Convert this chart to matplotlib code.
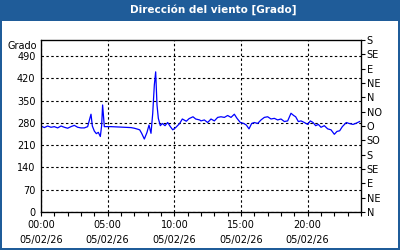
import matplotlib
matplotlib.use("Agg")
import matplotlib.pyplot as plt
from matplotlib.patches import Rectangle

TITLE = "Dirección del viento [Grado]"
UNIT = "Grado"

# hours since 05/02/26 00:00
hours = [0.00, 0.25, 0.50, 0.75, 1.00, 1.25, 1.50, 1.75, 2.00, 2.25, 2.50, 2.75,
         3.00, 3.25, 3.50, 3.60, 3.75, 3.85, 4.00, 4.15, 4.30, 4.45, 4.55, 4.62,
         4.75, 5.25, 5.75, 6.25, 6.75, 7.00, 7.25, 7.40, 7.55, 7.75, 7.95, 8.10,
         8.25, 8.38, 8.50, 8.60, 8.70, 8.80, 8.95, 9.10, 9.30, 9.50, 9.70, 9.88,
         10.10, 10.40, 10.60, 10.90, 11.10, 11.40, 11.60, 11.90, 12.00, 12.25,
         12.50, 12.75, 13.00, 13.25, 13.50, 13.75, 14.00, 14.25, 14.50, 14.70,
         14.95, 15.20, 15.40, 15.60, 15.80, 16.00, 16.25, 16.50, 16.75, 17.00,
         17.25, 17.50, 17.75, 18.00, 18.25, 18.50, 18.75, 18.95, 19.10, 19.30,
         19.50, 19.75, 20.00, 20.20, 20.40, 20.60, 20.80, 21.00, 21.25, 21.50,
         21.75, 22.00, 22.20, 22.40, 22.60, 22.90, 23.10, 23.40, 23.60, 23.90]
direction = [270, 265, 270, 266, 268, 264, 270, 266, 263, 268, 272, 266,
             264, 264, 268, 284, 307, 270, 254, 246, 250, 237, 272, 336,
             268, 268, 267, 266, 265, 263, 260, 258, 247, 229, 250, 273,
             247, 310, 399, 440, 336, 294, 271, 278, 271, 281, 268, 258,
             265, 278, 292, 285, 293, 299, 292, 289, 286, 289,
             281, 292, 286, 297, 299, 297, 303, 297, 307, 294,
             281, 278, 273, 261, 278, 281, 278, 289, 297, 299,
             292, 294, 289, 292, 284, 286, 310, 303, 299, 284,
             286, 281, 275, 286, 281, 271, 275, 266, 271, 261,
             258, 244, 253, 255, 268, 281, 278, 275, 278, 284]

left_ticks = [0, 70, 140, 210, 280, 350, 420, 490]
compass_ticks = [0, 45, 90, 135, 180, 225, 270, 315, 360, 405, 450, 495, 540]
compass_labels = ["N", "NE", "E", "SE", "S", "SO", "O", "NO", "N", "NE", "E", "SE", "S"]
x_ticks = [0, 5, 10, 15, 20]
x_labels = ["00:00\n05/02/26", "05:00\n05/02/26", "10:00\n05/02/26",
            "15:00\n05/02/26", "20:00\n05/02/26"]

BLUE = "#1f5c99"

fig = plt.figure(figsize=(4, 2.5), dpi=100)
fig.patch.set_facecolor(BLUE)
fig.patches.append(Rectangle((2 / 400, 2 / 250), 396 / 400, 227 / 250,
                             transform=fig.transFigure, facecolor="white",
                             edgecolor="none", zorder=-10))
fig.text(213 / 400, 240 / 250, TITLE, color="white", fontsize=7.5,
         fontweight="bold", ha="center", va="center")

ax = fig.add_axes([41 / 400, 38 / 250, 320 / 400, 172 / 250])
ax.set_zorder(1)
ax.plot(hours, direction, color="#0000ff", lw=0.9)
ax.set_xlim(0, 24)
ax.set_ylim(0, 540)

ax.set_yticks(left_ticks)
ax.set_yticklabels([str(v) for v in left_ticks], fontsize=7)
ax.tick_params(axis="y", length=0, pad=4)
ax.set_xticks(x_ticks)
ax.set_xticklabels(x_labels, fontsize=7, linespacing=1.6)
ax.set_xticks(range(0, 25), minor=True)
ax.tick_params(axis="x", which="both", direction="out", length=3, width=0.8, pad=3)
ax.grid(True, color="black", linestyle=(0, (2.2, 2.2)), linewidth=0.8)
for s in ax.spines.values():
    s.set_linewidth(0.9)

ax2 = ax.twinx()
ax2.set_zorder(2)
ax2.patch.set_visible(False)
ax2.set_ylim(0, 540)
ax2.set_yticks(compass_ticks)
ax2.set_yticklabels(compass_labels, fontsize=7)
ax2.tick_params(axis="y", direction="out", length=3, width=0.8, pad=1)

fig.text(37 / 400, 204 / 250, UNIT, fontsize=7, ha="right", va="center")

fig.savefig("out.png", dpi=100, facecolor=fig.get_facecolor())
